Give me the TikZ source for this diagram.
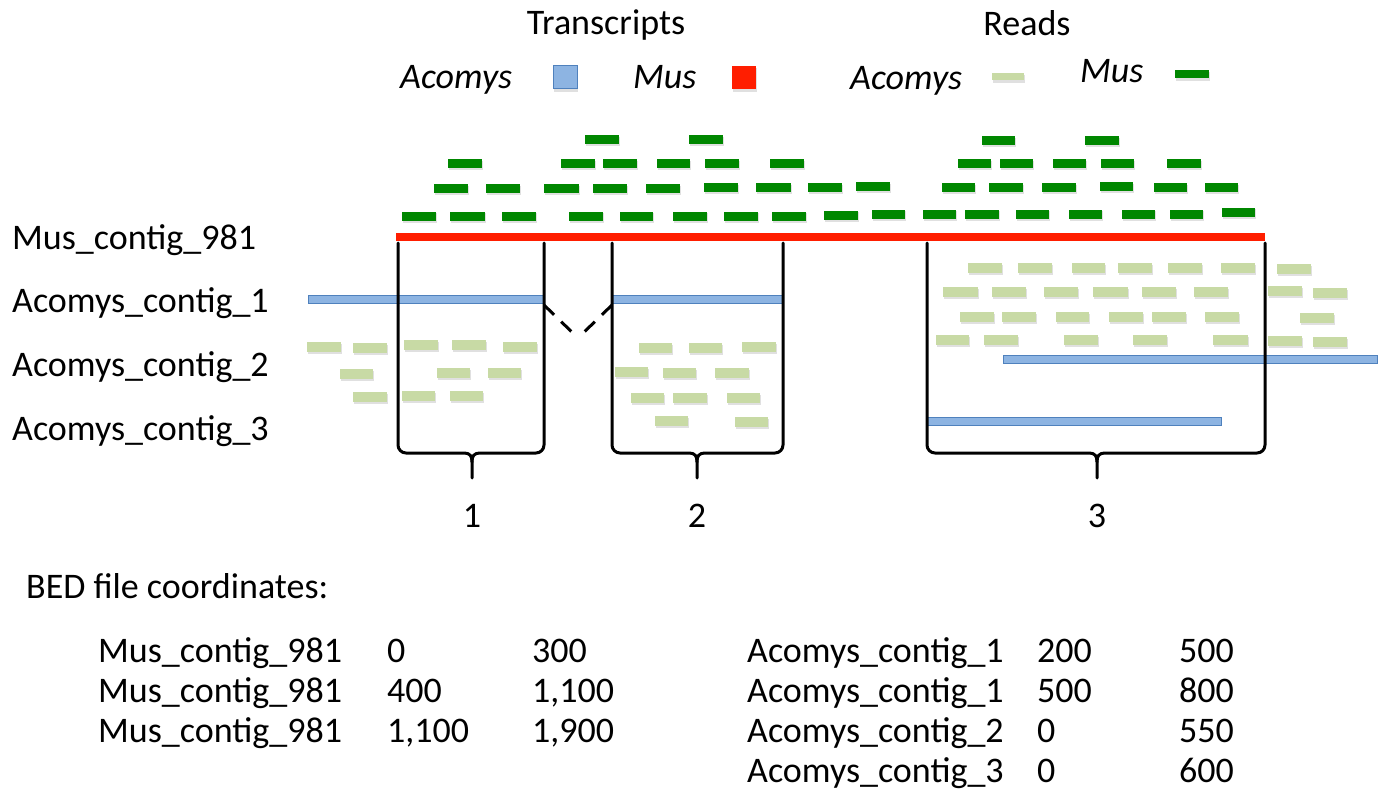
\documentclass[tikz,border=0pt]{standalone}
\usepackage{fontspec}
\setmainfont{Carlito}
\definecolor{musgreen}{RGB}{0,135,0}
\definecolor{acogreen}{RGB}{200,218,165}
\definecolor{trblue}{RGB}{141,180,226}
\definecolor{trblueedge}{RGB}{79,129,189}
\definecolor{musred}{RGB}{255,30,0}
\begin{document}
\begin{tikzpicture}[x=1pt,y=-1pt,
  txt/.style={font=\fontsize{36}{42}\selectfont, inner sep=0pt, anchor=base west},
  itxt/.style={txt, font=\fontsize{36}{42}\selectfont\itshape},
  ctxt/.style={txt, anchor=base},
  mread/.style={fill=musgreen},
  aread/.style={fill=acogreen},
  shadow/.style={fill=black, opacity=0.12},
  tbar/.style={fill=trblue, draw=trblueedge, line width=1pt},
  mbar/.style={fill=musred},
  brk/.style={line width=3pt, black, line cap=round, line join=round},
  splice/.style={line width=3pt, black, dash pattern=on 14pt off 10pt}]
\fill[white] (0,0) rectangle (1385,797);
\useasboundingbox (0,0) rectangle (1385,797);

% ---------- legend ----------
\node[ctxt] (ttr) at (606,35) {Transcripts};
\node[ctxt] (trd) at (1027,36) {Reads};
\node[itxt] (lac) at (400,89) {Acomys};
\node[itxt] (lmu) at (633,89) {Mus};
\node[itxt] (rac) at (850,90) {Acomys};
\node[itxt] (rmu) at (1080,83) {Mus};
\fill[shadow] (554,68) rectangle (578,92);
\filldraw[tbar] (553,66) rectangle (577,89);
\fill[shadow] (733,68) rectangle (757,92);
\fill[mbar] (732,66) rectangle (756,89);
\fill[shadow] (993,75) rectangle (1025,83);
\fill[aread] (992,73) rectangle (1024,80);
\fill[shadow] (1176,72) rectangle (1210,81);
\fill[mread] (1175,70) rectangle (1209,78);

% ---------- Mus reads ----------
\foreach \a/\b/\y in {585/619/140, 689/723/140,
  448/482/164, 561/595/164, 603/637/164, 657/690/164, 705/739/164, 770/804/164,
  434/468/189, 486/520/189, 544/579/189, 593/627/189, 646/680/189, 704/738/188, 756/791/188, 808/842/188, 856/890/187,
  402/436/216, 450/485/216, 502/536/216, 569/603/216, 620/653/216, 673/707/216, 724/758/216, 772/806/216, 824/858/215, 872/905/214,
  982/1015/141, 1085/1119/141,
  958/991/164, 1000/1033/164, 1053/1086/164, 1101/1134/164, 1167/1201/164,
  942/975/188, 989/1023/188, 1042/1076/188, 1100/1133/187, 1154/1187/188, 1205/1238/188,
  923/956/214, 965/999/214, 1016/1049/214, 1069/1102/214, 1122/1155/214, 1170/1203/214, 1222/1255/212}
{
  \fill[shadow] (\a+1,\y-3) rectangle (\b+1,\y+6.5);
  \fill[mread] (\a,\y-4.5) rectangle (\b,\y+4.5);
}

% ---------- Acomys reads ----------
\foreach \a/\b/\y in {307/341/347, 353/387/348, 404/438/345, 452/486/345, 503/537/347, 639/672/348, 689/722/348, 742/776/347,
  340/373/374, 437/470/373, 488/521/373, 615/648/372, 663/696/373, 715/749/373,
  353/387/397, 402/435/396, 450/483/396, 631/664/398, 673/707/398, 727/760/398,
  655/688/421, 735/768/422,
  968/1002/268, 1018/1052/268, 1072/1105/268, 1118/1152/268, 1168/1202/268, 1221/1255/268, 1277/1311/269,
  943/978/292, 992/1026/292, 1044/1078/292, 1093/1128/292, 1142/1176/292, 1194/1228/292, 1268/1302/291, 1313/1347/293,
  960/994/317, 1002/1036/317, 1056/1089/317, 1109/1143/317, 1152/1186/317, 1205/1239/317, 1300/1334/318,
  936/969/340, 984/1018/340, 1064/1098/340, 1133/1167/340, 1213/1248/340, 1268/1302/341, 1313/1347/342}
{
  \fill[shadow] (\a+1,\y-3) rectangle (\b+1,\y+7);
  \fill[aread] (\a,\y-5) rectangle (\b,\y+5);
}

% ---------- contigs ----------
\fill[mbar] (396,233) rectangle (1265,241);
\filldraw[tbar] (308,295) rectangle (544,303);
\filldraw[tbar] (612,295) rectangle (783,303);
\filldraw[tbar] (1003,355) rectangle (1377,363);
\filldraw[tbar] (927,417) rectangle (1221,425);

% ---------- brackets ----------
\foreach \L/\R/\C in {398/544/472, 612/783/697, 927/1265/1097}
{
  \draw[brk] (\L,243) -- (\L,445) to[out=-90,in=180] (\L+8,453) -- (\C-8,453)
     .. controls (\C-2,453) and (\C,456) .. (\C,462) -- (\C,478);
  \draw[brk] (\R,243) -- (\R,445) to[out=-90,in=0] (\R-8,453) -- (\C+8,453)
     .. controls (\C+2,453) and (\C,456) .. (\C,462);
}

% ---------- splice junction ----------
\coordinate (sj1) at (544,305);
\coordinate (sj2) at (612,305);
\coordinate (sjv) at (578,338);
\draw[splice] (sj1) -- (sjv);
\draw[splice] (sj2) -- (sjv);

% ---------- labels ----------
\node[txt] (lab1) at (12,249) {Mus\_contig\_981};
\node[txt] (lab2) at (12,312) {Acomys\_contig\_1};
\node[txt] (lab3) at (12,376) {Acomys\_contig\_2};
\node[txt] (lab4) at (12,440) {Acomys\_contig\_3};

\node[ctxt] (n1) at (472,527) {1};
\node[ctxt] (n2) at (697,527) {2};
\node[ctxt] (n3) at (1097,527) {3};

% ---------- BED table ----------
\node[txt] (bed) at (26,598) {BED file coordinates:};
\node[txt] (m1) at (98,662) {Mus\_contig\_981};
\node[txt] (m2) at (98,702) {Mus\_contig\_981};
\node[txt] (m3) at (98,742) {Mus\_contig\_981};
\node[txt] (m1s) at (387,662) {0};
\node[txt] (m2s) at (387,702) {400};
\node[txt] (m3s) at (387,742) {1,100};
\node[txt] (m1e) at (532,662) {300};
\node[txt] (m2e) at (532,702) {1,100};
\node[txt] (m3e) at (532,742) {1,900};
\node[txt] (a1) at (747,662) {Acomys\_contig\_1};
\node[txt] (a2) at (747,702) {Acomys\_contig\_1};
\node[txt] (a3) at (747,742) {Acomys\_contig\_2};
\node[txt] (a4) at (747,782) {Acomys\_contig\_3};
\node[txt] (a1s) at (1037,662) {200};
\node[txt] (a2s) at (1037,702) {500};
\node[txt] (a3s) at (1037,742) {0};
\node[txt] (a4s) at (1037,782) {0};
\node[txt] (a1e) at (1179,662) {500};
\node[txt] (a2e) at (1179,702) {800};
\node[txt] (a3e) at (1179,742) {550};
\node[txt] (a4e) at (1179,782) {600};
\end{tikzpicture}
\end{document}
